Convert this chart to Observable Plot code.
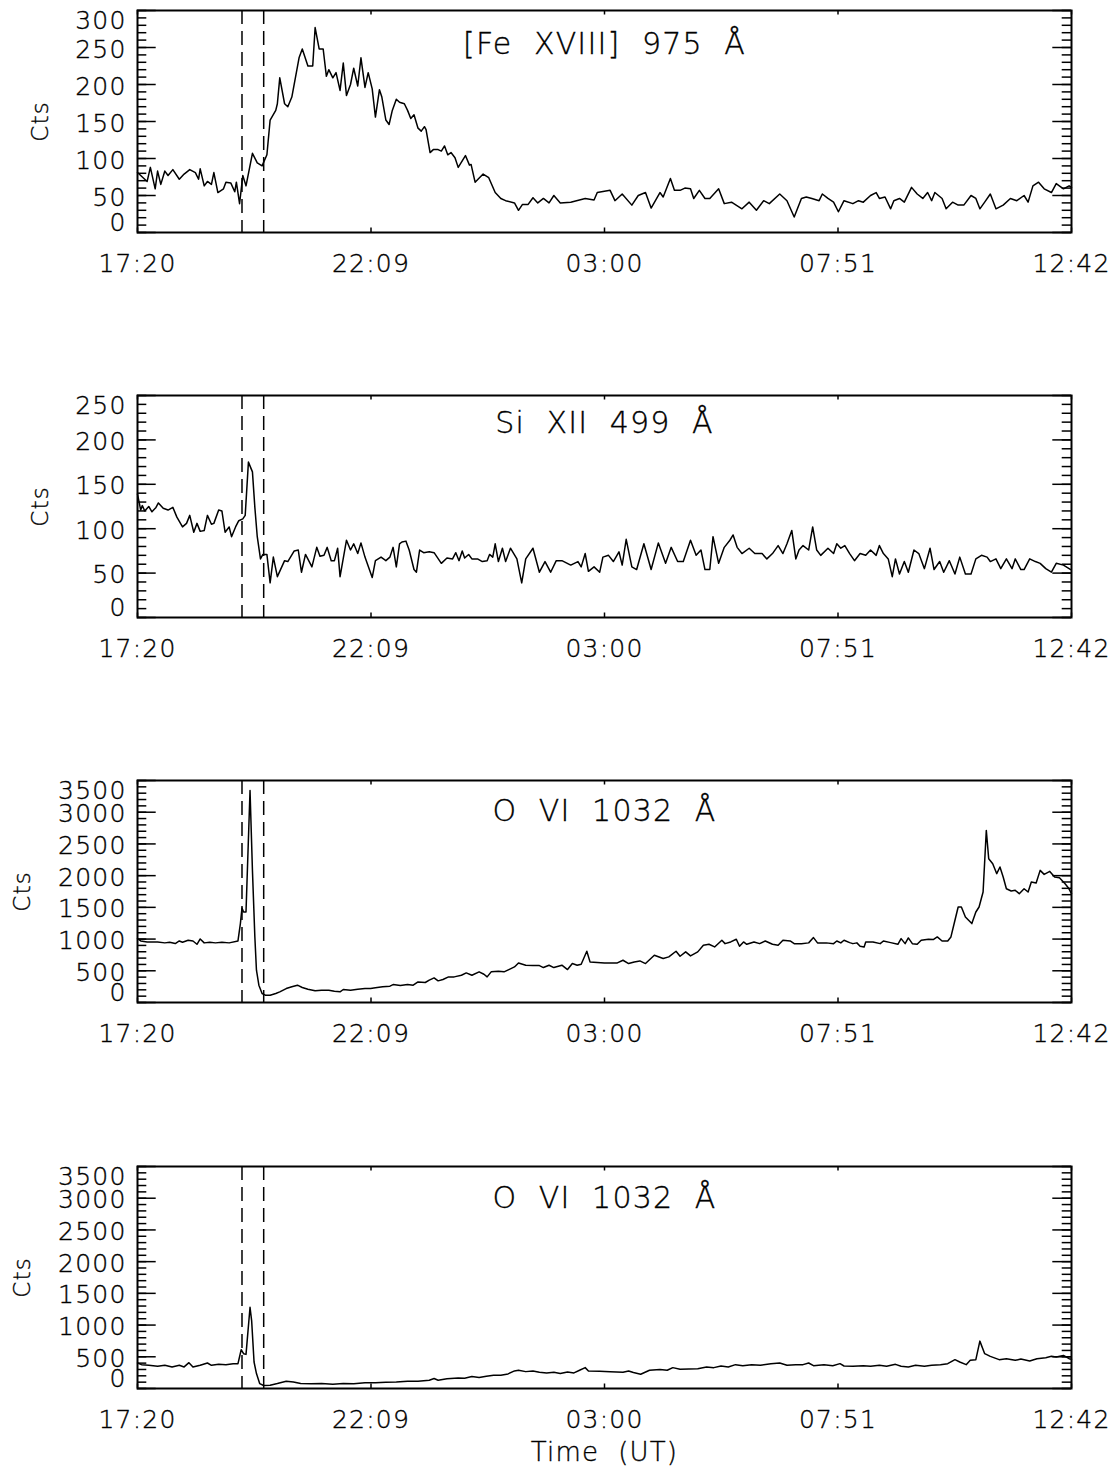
<!DOCTYPE html>
<html><head><meta charset="utf-8">
<script src="https://cdn.jsdelivr.net/npm/d3@7"></script>
<script src="https://cdn.jsdelivr.net/npm/@observablehq/plot@0.6"></script>
<style>
body{margin:0;background:#fff;}
#chart{width:1116px;}
#chart svg{display:block;}
#chart svg text{letter-spacing:1.2px;fill:#000;stroke:#000;stroke-width:0.35px;white-space:pre;}
</style></head><body><div id="chart"></div>
<script>
// x: minutes since 17:20 UT
const xTicks = [0, 290.5, 581, 871.5, 1162];
const xLabels = ["17:20", "22:09", "03:00", "07:51", "12:42"];
const markers = [130, 157];

// [Fe XVIII] 975 Å
const feT = [0,7,12,16,22,25,29,34,38,44,52,58,65,72,76,78,83,87,92,95,100,107,110,116,121,123,127,131,135,143,149,155,161,165,172,174,177,183,187,192,201,205,212,218,221,226,231,235,238,243,247,252,256,260,265,269,274,278,283,287,292,296,301,304,309,313,317,322,326,332,336,340,344,349,353,357,359,364,368,374,378,382,386,390,395,399,408,413,415,420,430,437,445,452,458,469,474,479,486,492,498,505,512,518,526,539,557,568,572,588,594,603,615,623,632,639,650,654,663,668,675,681,688,692,699,706,712,723,730,739,752,761,770,779,786,799,808,817,826,832,839,848,852,859,866,872,879,890,897,903,912,919,923,930,937,941,948,954,963,970,977,983,988,992,1001,1006,1014,1021,1028,1037,1043,1048,1054,1061,1068,1077,1086,1094,1103,1108,1114,1121,1128,1137,1143,1152,1159,1162];
const feV = [81,74,69,88,59,83,65,83,77,85,72,79,85,81,72,86,63,69,65,81,54,59,68,67,55,68,39,77,63,107,94,90,105,152,165,174,209,174,170,183,236,248,225,225,277,248,248,211,220,209,216,192,229,185,200,222,198,236,196,216,194,156,193,183,152,146,165,180,176,174,165,154,159,141,137,143,139,108,112,112,110,117,105,108,101,88,104,91,92,68,79,74,54,46,43,40,30,38,38,47,40,46,40,50,40,41,46,44,54,57,43,52,37,50,54,33,54,48,73,57,57,60,59,46,57,46,46,59,39,41,32,41,30,43,39,52,43,21,46,48,46,43,52,46,41,28,43,39,43,41,50,54,46,48,32,43,46,41,61,52,46,54,43,54,46,32,41,37,37,50,46,32,41,52,32,37,46,43,50,41,63,68,59,54,66,59,63,61];

// Si XII 499 Å
const siT = [0,4,6,9,14,18,23,26,32,38,44,49,56,61,65,70,74,78,83,87,92,95,101,105,109,114,117,122,126,131,134,138,143,146,149,153,156,161,165,169,174,183,187,195,200,204,209,217,223,227,232,236,241,245,249,252,260,265,269,274,278,283,292,296,303,309,314,318,322,326,329,334,338,344,347,351,356,363,369,378,385,392,396,400,404,407,412,416,423,429,435,438,442,445,449,454,458,464,472,478,483,492,500,507,514,521,528,539,548,552,557,561,568,575,579,586,592,599,603,608,615,621,630,639,648,657,664,672,679,688,695,701,706,712,716,723,730,737,741,746,752,761,768,777,783,790,797,803,808,814,819,823,828,835,840,845,850,859,866,870,875,880,886,892,899,906,912,919,923,928,934,939,943,948,954,959,966,972,979,986,991,998,1003,1010,1017,1023,1030,1037,1043,1050,1057,1061,1068,1074,1081,1088,1092,1099,1103,1110,1117,1123,1130,1137,1143,1152,1161];
const siV = [139,121,126,120,125,119,124,129,123,121,124,113,102,106,115,96,106,97,98,115,105,106,121,120,96,102,91,102,109,111,115,175,164,124,91,66,71,71,39,68,46,64,63,75,76,51,71,57,79,69,70,79,64,64,78,46,87,76,83,72,84,68,45,64,68,64,68,79,57,83,85,86,76,54,51,76,73,74,73,61,67,66,73,64,75,67,71,66,66,63,64,71,68,83,63,78,63,78,66,39,66,78,51,63,51,64,64,59,63,57,72,52,57,51,68,70,63,74,59,88,57,54,83,54,84,61,79,63,63,87,70,76,54,54,91,61,79,87,93,79,72,78,72,72,66,72,81,72,83,98,66,76,81,76,102,76,70,78,72,83,78,81,72,64,72,70,76,70,81,72,66,46,66,49,63,51,76,72,55,78,54,63,51,64,49,68,49,49,66,70,68,63,66,55,66,55,66,54,54,66,63,61,55,51,61,59,54];

// O VI 1032 Å (upper)
const o1T = [0,4,12,25,34,40,47,52,56,63,69,74,78,83,90,97,105,114,125,128,130,132,135,140,143,146,148,151,155,159,165,172,177,185,192,199,205,212,221,229,238,245,252,256,265,274,283,290,296,305,314,318,327,336,343,349,358,363,369,374,380,387,394,403,409,416,425,431,435,440,449,456,462,469,474,483,492,500,505,512,518,528,535,541,547,552,559,563,581,597,604,611,618,625,632,643,654,661,670,675,682,688,697,704,711,718,727,731,738,745,749,754,758,767,774,781,790,797,803,812,817,826,835,841,846,857,866,870,875,879,886,890,895,899,904,906,915,924,928,937,946,950,955,959,964,970,975,984,990,995,1001,1008,1012,1017,1021,1025,1030,1038,1043,1047,1052,1056,1059,1064,1069,1073,1077,1081,1087,1092,1097,1103,1108,1112,1118,1123,1128,1135,1141,1147,1154,1158,1162];
const o1V = [1007,970,955,955,940,950,930,970,950,981,970,918,1002,940,950,940,950,940,970,1244,1490,1427,1427,3342,2083,1034,509,273,142,115,115,142,168,220,247,273,236,210,184,194,194,178,168,205,194,210,220,220,231,247,257,283,268,283,273,325,315,352,388,341,362,404,404,430,467,430,483,446,404,483,493,483,519,561,624,588,582,582,551,588,551,588,519,614,588,603,808,640,624,624,666,614,640,656,614,745,693,719,808,729,798,735,798,902,918,876,981,928,955,997,887,955,918,955,928,970,918,902,981,970,928,928,940,1023,940,940,928,970,940,981,944,928,940,887,876,955,955,928,970,944,918,1007,928,1018,928,918,981,997,992,1034,970,970,1034,1296,1506,1506,1348,1244,1427,1506,1742,2713,2267,2188,2031,2136,1978,1794,1758,1768,1716,1794,1742,1899,1884,2083,2020,2067,1978,1968,1873,1810,1716];

// O VI 1032 Å (lower)
const o2T = [0,5,14,25,34,43,52,58,64,69,78,87,92,101,110,119,125,129,132,135,140,142,145,148,152,157,165,174,185,194,203,216,229,243,256,269,283,296,309,322,336,349,363,369,374,385,399,407,416,425,434,443,452,461,469,474,483,492,500,509,518,526,535,543,550,557,561,575,588,604,611,617,626,637,650,659,666,675,686,697,708,717,726,735,744,753,764,775,788,799,808,819,828,835,841,854,865,874,879,890,903,912,923,932,943,950,959,968,979,988,999,1008,1017,1023,1031,1036,1043,1048,1054,1061,1072,1081,1092,1099,1110,1119,1130,1137,1143,1152,1159,1162];
const o2V = [402,376,366,350,366,340,366,340,407,340,366,402,366,381,376,392,392,611,549,538,1280,1071,418,235,78,47,52,78,115,104,78,73,78,68,78,73,89,89,99,104,115,115,131,157,131,152,167,162,188,172,193,209,209,230,277,287,266,277,256,246,256,235,261,246,287,329,277,272,266,256,277,251,225,287,298,287,329,303,308,313,340,329,355,340,376,360,376,366,392,402,366,376,376,402,360,376,360,392,355,350,360,350,366,350,381,350,340,366,350,366,376,392,455,418,376,444,455,747,549,507,455,470,444,465,434,470,486,507,496,522,470,460];

const panels = [
  {title: "[Fe  XVIII]  975  Å", t: feT, v: feV, top: 300, major: 50, minor: 10, titleDy: 34, ctsX: 40},
  {title: "Si  XII  499  Å", t: siT, v: siV, top: 250, major: 50, minor: 10, titleDy: 28, ctsX: 40},
  {title: "O  VI  1032  Å", t: o1T, v: o1V, top: 3500, major: 500, minor: 100, titleDy: 31, ctsX: 22},
  {title: "O  VI  1032  Å", t: o2T, v: o2V, top: 3500, major: 500, minor: 100, titleDy: 32, ctsX: 22}
];

const W = 1116, ML = 137, MR = 45, PH = 222, PW = W - ML - MR;
const FS = 25;
const fmt = d => String(d);

function makePanel(p, last) {
  const majors = d3.range(0, p.top + 1, p.major);
  const minors = d3.range(0, p.top + 1, p.minor);
  const data = p.t.map((t, i) => ({t, v: p.v[i]}));
  const height = last ? 317 : 385;
  const mt = last ? 11 : 10;
  const ax = {anchor: "left", tickSize: 0, tickPadding: 11, fontSize: FS, tickFormat: fmt, label: null};
  return Plot.plot({
    width: W, height, marginLeft: ML, marginRight: MR, marginTop: mt, marginBottom: height - mt - PH,
    style: {fontFamily: '"DejaVu Sans", sans-serif', fontWeight: 200, background: "white", color: "black"},
    x: {domain: [0, 1162], axis: null, label: null},
    y: {domain: [0, p.top], axis: null, label: null},
    marks: [
      Plot.ruleX(markers, {x: d => d, stroke: "black", strokeWidth: 1.5, strokeDasharray: "14,7"}),
      Plot.line(data, {x: "t", y: "v", stroke: "black", strokeWidth: 1.5}),
      Plot.tickY(minors, {y: d => d, insetRight: PW - 9.3, strokeWidth: 1.5}),
      Plot.tickY(majors, {y: d => d, insetRight: PW - 18.7, strokeWidth: 1.5}),
      Plot.tickY(minors, {y: d => d, insetLeft: PW - 9.3, strokeWidth: 1.5}),
      Plot.tickY(majors, {y: d => d, insetLeft: PW - 18.7, strokeWidth: 1.5}),
      Plot.tickX(xTicks, {x: d => d, insetTop: PH - 4.5, strokeWidth: 1.5}),
      Plot.tickX(xTicks, {x: d => d, insetBottom: PH - 4.5, strokeWidth: 1.5}),
      Plot.frame({stroke: "black", strokeWidth: 2}),
      Plot.axisY(majors.slice(1, -1), {...ax, dy: 2}),
      Plot.axisY([0], {...ax, dy: -10}),
      Plot.axisY([p.top], {...ax, dy: 10}),
      Plot.axisX(xTicks, {anchor: "bottom", tickSize: 0, tickPadding: 22, fontSize: FS, label: null,
        tickFormat: d => xLabels[xTicks.indexOf(d)]}),
      Plot.text([p.title], {frameAnchor: "top", dy: p.titleDy, lineAnchor: "middle", fontSize: 30}),
      Plot.text(["Cts"], {frameAnchor: "left", dx: p.ctsX - ML, rotate: -90, textAnchor: "middle", lineAnchor: "middle", fontSize: 23}),
      last ? Plot.text(["Time  (UT)"], {frameAnchor: "bottom", dy: 72, fontSize: 26}) : null
    ]
  });
}

const root = document.getElementById("chart");
panels.forEach((p, i) => root.appendChild(makePanel(p, i === panels.length - 1)));
</script>
</body></html>
